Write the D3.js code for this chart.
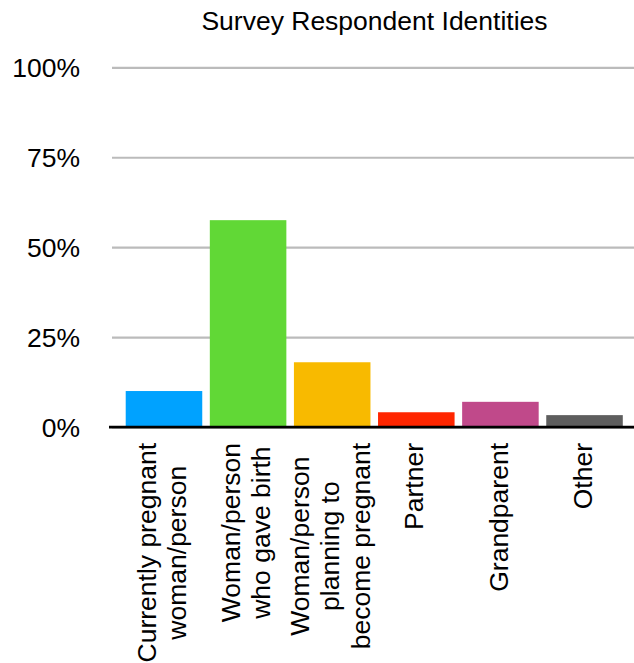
<!DOCTYPE html>
<html>
<head>
<meta charset="utf-8">
<script src="https://cdn.jsdelivr.net/npm/d3@7"></script>
<style>
  html, body { margin: 0; padding: 0; background: #fff; }
  svg { display: block; }
  text { font-family: "Liberation Sans", Arial, Helvetica, sans-serif; fill: #000; }
</style>
</head>
<body>
<svg id="chart" width="634" height="663"></svg>
<script>
const title = "Survey Respondent Identities";
const categories = [
  ["Currently pregnant", "woman/person"],
  ["Woman/person", "who gave birth"],
  ["Woman/person", "planning to", "become pregnant"],
  ["Partner"],
  ["Grandparent"],
  ["Other"]
];
const values = [10.0, 57.5, 18.0, 4.1, 7.0, 3.3];
const colors = ["#00A2FF", "#61D836", "#F8BA00", "#FF2600", "#C0498A", "#5E5E5E"];
const yTicks = [0, 25, 50, 75, 100];
const yTickLabels = ["0%", "25%", "50%", "75%", "100%"];

const W = 634, H = 663;
const svg = d3.select("#chart");
const fontSize = 26.5;

const x = d3.scaleBand()
  .domain(d3.range(categories.length))
  .range([112, 636.5])
  .paddingInner(0.09)
  .paddingOuter(0.163);

const y = d3.scaleLinear().domain([0, 100]).range([427, 67.3]);

// gridlines
const yAxis = d3.axisLeft(y).tickValues(yTicks)
  .tickSize(-(W - 112))
  .tickFormat((d, i) => yTickLabels[i]);
const gy = svg.append("g").attr("transform", "translate(112,0)").call(yAxis);
gy.select(".domain").remove();
gy.selectAll(".tick line").attr("stroke", "#bbbbbb").attr("stroke-width", 2.2);
gy.selectAll(".tick text")
  .attr("x", -32)
  .attr("dy", "0.35em")
  .style("font-size", fontSize + "px")
  .style("font-family", "'Liberation Sans', Arial, Helvetica, sans-serif")
  .attr("fill", "#000");

// bars
svg.append("g").selectAll("rect")
  .data(values)
  .join("rect")
  .attr("x", (d, i) => x(i))
  .attr("width", x.bandwidth())
  .attr("y", d => y(d))
  .attr("height", d => y(0) - y(d))
  .attr("fill", (d, i) => colors[i]);

// x axis baseline
svg.append("line")
  .attr("x1", 109).attr("x2", W)
  .attr("y1", y(0) + 0.1).attr("y2", y(0) + 0.1)
  .attr("stroke", "#000").attr("stroke-width", 2.6);

// category labels (rotated)
const lineH = 30.5;
const labelTop = 443;
categories.forEach((lines, i) => {
  const cx = x(i) + x.bandwidth() / 2 + 0.5;
  const g = svg.append("g").attr("transform", `translate(${cx},${labelTop}) rotate(-90)`);
  const n = lines.length;
  const texts = lines.map((ln, j) => g.append("text")
    .attr("text-anchor", "middle")
    .style("font-size", fontSize + "px")
    .attr("y", 6.6 - (n - 1) * lineH / 2 + j * lineH)
    .text(ln));
  const maxLen = d3.max(texts, t => t.node().getComputedTextLength());
  texts.forEach(t => t.attr("x", -maxLen / 2));
});

// title
svg.append("text")
  .attr("x", 374.5)
  .attr("y", 30)
  .attr("text-anchor", "middle")
  .style("font-size", fontSize + "px")
  .text(title);
</script>
</body>
</html>
